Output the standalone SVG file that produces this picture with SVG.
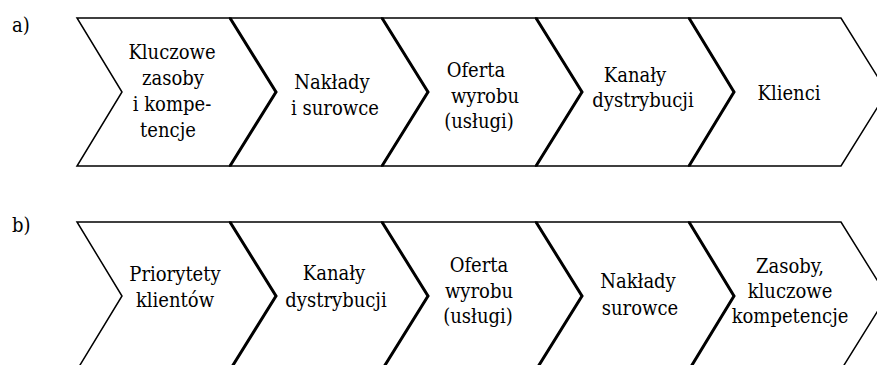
<svg xmlns="http://www.w3.org/2000/svg" width="877" height="365" viewBox="0 0 877 365">
<style>
.ch{fill:#fff;stroke:#000;stroke-width:1.5;stroke-linejoin:miter}
.sep{fill:none;stroke:#000;stroke-width:3;stroke-linejoin:miter}
text{font-family:"DejaVu Serif Condensed","DejaVu Serif",serif;font-size:20px;fill:#000;text-anchor:middle}
.lbl{text-anchor:start}
</style>
<rect width="877" height="365" fill="#fff"/>
<text class="lbl" x="12" y="32">a)</text>
<text class="lbl" x="12" y="232">b)</text>
<g id="a1"><polygon class="ch" points="77,18 230,18 276,92 230,166 77,166 122,92"/>
<text x="172" y="59">Kluczowe</text><text x="173" y="85">zasoby</text><text x="172" y="111">i kompe-</text><text x="168" y="137">tencje</text></g>
<g id="a2"><polygon class="ch" points="230,18 382,18 428,92 382,166 230,166 276,92"/>
<text x="332" y="89">Nakłady</text><text x="335" y="115">i surowce</text></g>
<g id="a3"><polygon class="ch" points="382,18 536,18 582,92 536,166 382,166 428,92"/>
<text x="476" y="77">Oferta</text><text x="485" y="103">wyrobu</text><text x="479" y="128">(usługi)</text></g>
<g id="a4"><polygon class="ch" points="536,18 689,18 734,92 689,166 536,166 582,92"/>
<text x="635" y="82">Kanały</text><text x="643" y="107">dystrybucji</text></g>
<g id="a5"><polygon class="ch" points="689,18 841,18 887,92 841,166 689,166 734,92"/>
<text x="789" y="100">Klienci</text></g>
<g id="b1"><polygon class="ch" points="77,222 230,222 276,296 230,370 77,370 122,296"/>
<text x="175" y="281">Priorytety</text><text x="175" y="307">klientów</text></g>
<g id="b2"><polygon class="ch" points="230,222 382,222 428,296 382,370 230,370 276,296"/>
<text x="334" y="280">Kanały</text><text x="336" y="307">dystrybucji</text></g>
<g id="b3"><polygon class="ch" points="382,222 536,222 582,296 536,370 382,370 428,296"/>
<text x="479" y="272">Oferta</text><text x="479" y="298">wyrobu</text><text x="478" y="323">(usługi)</text></g>
<g id="b4"><polygon class="ch" points="536,222 689,222 734,296 689,370 536,370 582,296"/>
<text x="638" y="288">Nakłady</text><text x="640" y="315">surowce</text></g>
<g id="b5"><polygon class="ch" points="689,222 841,222 887,296 841,370 689,370 734,296"/>
<text x="790" y="273">Zasoby,</text><text x="790" y="298">kluczowe</text><text x="790" y="323">kompetencje</text></g>
<g id="connectors">
<polyline class="sep" points="230,18 276,92 230,166"/>
<polyline class="sep" points="382,18 428,92 382,166"/>
<polyline class="sep" points="536,18 582,92 536,166"/>
<polyline class="sep" points="689,18 734,92 689,166"/>
<polyline class="sep" points="230,222 276,296 230,370"/>
<polyline class="sep" points="382,222 428,296 382,370"/>
<polyline class="sep" points="536,222 582,296 536,370"/>
<polyline class="sep" points="689,222 734,296 689,370"/>
</g>
</svg>
